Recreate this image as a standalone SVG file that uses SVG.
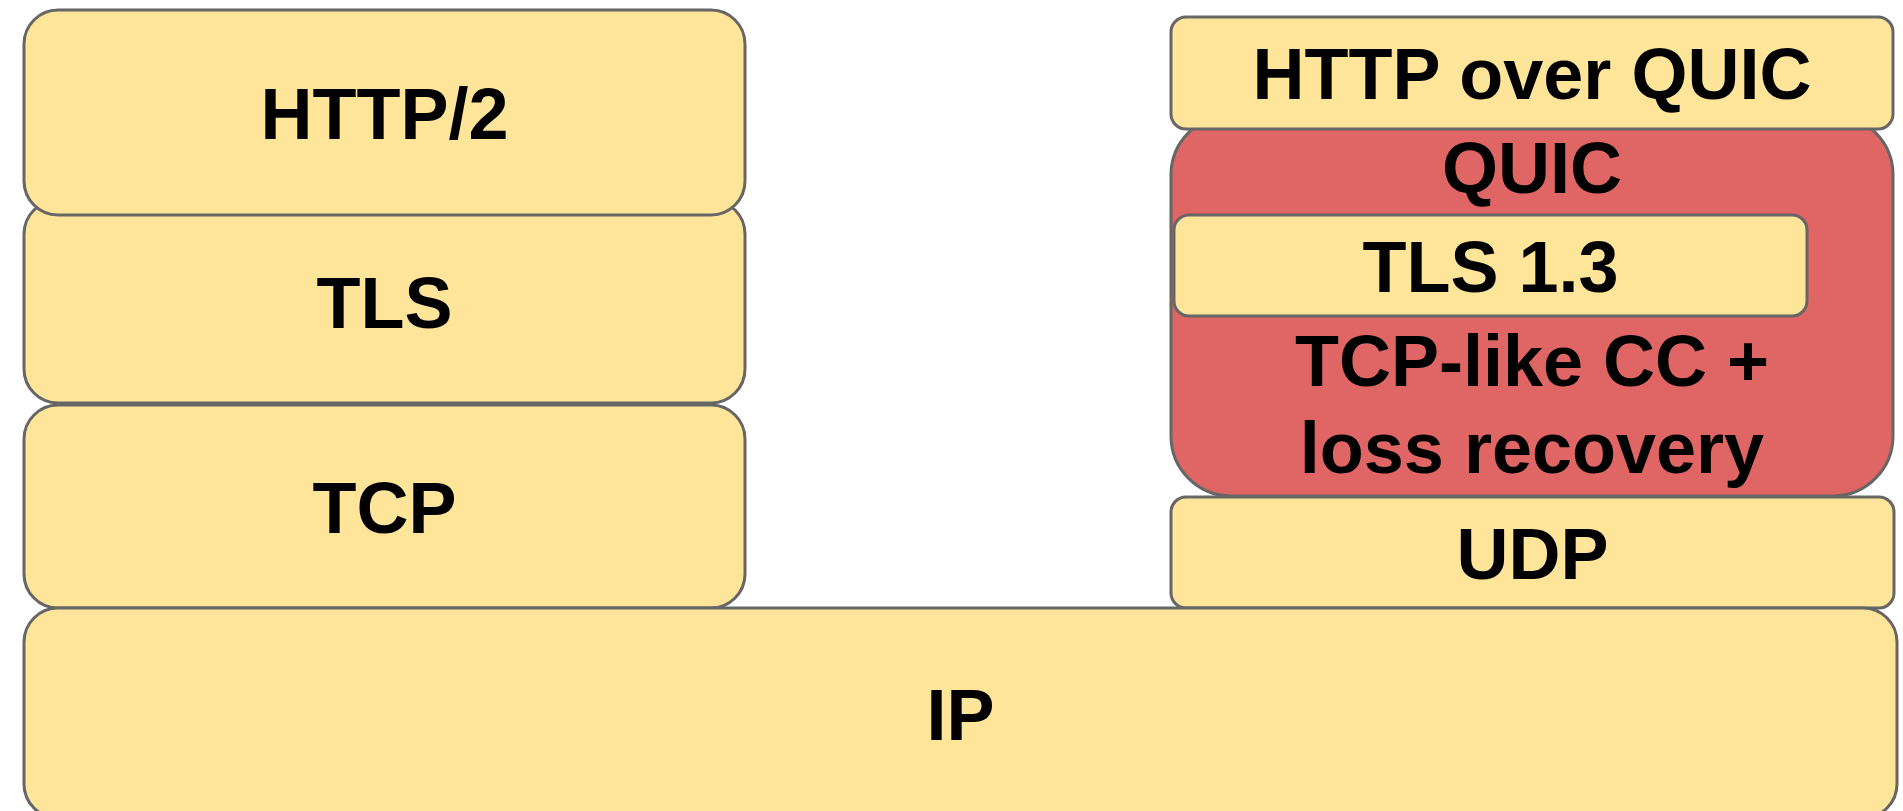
<svg xmlns="http://www.w3.org/2000/svg" width="1903" height="811" viewBox="0 0 1903 811">
  <style>
    .layer { fill: #FFE599; stroke: #666666; stroke-width: 3; }
    .quic { fill: #E06666; stroke: #666666; stroke-width: 3; }
    .lbl { font-family: "Liberation Sans", Arial, sans-serif; font-weight: bold; font-size: 72px; fill: #000000; text-anchor: middle; }
  </style>
  <rect width="1903" height="811" fill="#FFFFFF"/>

  <!-- Left stack: HTTP/2 over TLS over TCP -->
  <g id="tcp">
    <rect class="layer" x="24" y="405" width="721" height="203" rx="34" ry="34"/>
    <text class="lbl" x="384.5" y="533">TCP</text>
  </g>
  <g id="tls">
    <rect class="layer" x="24" y="200" width="721" height="203" rx="34" ry="34"/>
    <text class="lbl" x="384.5" y="328">TLS</text>
  </g>
  <g id="http2">
    <rect class="layer" x="24" y="10" width="721" height="205" rx="34" ry="34"/>
    <text class="lbl" x="384.5" y="139">HTTP/2</text>
  </g>

  <!-- Right stack: HTTP over QUIC over UDP -->
  <g id="quic">
    <rect class="quic" x="1171" y="115" width="722" height="381" rx="60" ry="60"/>
    <text class="lbl" x="1532" y="193">QUIC</text>
    <text class="lbl" x="1532" y="386">TCP-like CC +</text>
    <text class="lbl" x="1532" y="473">loss recovery</text>
  </g>
  <g id="tls13">
    <rect class="layer" x="1174" y="215" width="633" height="101" rx="15" ry="15"/>
    <text class="lbl" x="1490.5" y="292">TLS 1.3</text>
  </g>
  <g id="http-over-quic">
    <rect class="layer" x="1171" y="17" width="722" height="112" rx="15" ry="15"/>
    <text class="lbl" x="1532" y="99">HTTP over QUIC</text>
  </g>
  <g id="udp">
    <rect class="layer" x="1171" y="497" width="723" height="111" rx="15" ry="15"/>
    <text class="lbl" x="1532.5" y="579">UDP</text>
  </g>

  <!-- Shared network layer -->
  <g id="ip">
    <rect class="layer" x="24" y="608" width="1873" height="210" rx="34" ry="34"/>
    <text class="lbl" x="960.5" y="740">IP</text>
  </g>

  <g id="connectors"/>
</svg>
